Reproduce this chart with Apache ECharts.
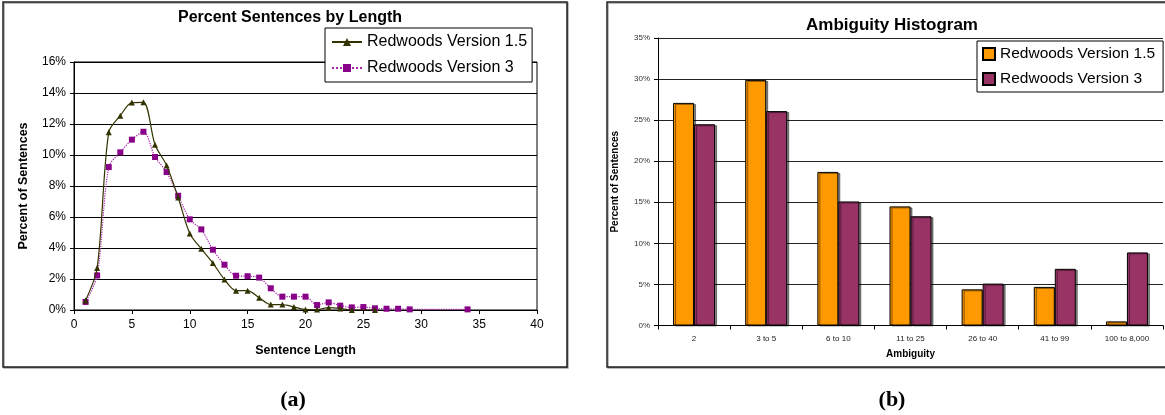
<!DOCTYPE html>
<html>
<head>
<meta charset="utf-8">
<script src="https://cdn.jsdelivr.net/npm/echarts@6/dist/echarts.min.js"></script>
<style>
  html, body { margin: 0; padding: 0; background: #fff; }
  #chart { width: 1165px; height: 415px; }
</style>
</head>
<body>
<div id="chart"></div>
<script>
// (a) Percent of sentences by sentence length
const lengthTicks = [0, 5, 10, 15, 20, 25, 30, 35, 40];
const lengthsV15 = [1, 2, 3, 4, 5, 6, 7, 8, 9, 10, 11, 12, 13, 14, 15, 16, 17, 18, 19, 20, 21, 22, 23, 24, 26];
const percentV15 = [0.62, 2.71, 11.46, 12.54, 13.38, 13.40, 10.66, 9.33, 7.26, 4.94, 3.95, 3.03, 1.97, 1.25, 1.25, 0.79, 0.35, 0.35, 0.20, 0.03, 0.03, 0.15, 0.10, 0.0, 0.0];
const lengthsV3 = [1, 2, 3, 4, 5, 6, 7, 8, 9, 10, 11, 12, 13, 14, 15, 16, 17, 18, 19, 20, 21, 22, 23, 24, 25, 26, 27, 28, 29, 34];
const percentV3 = [0.52, 2.23, 9.22, 10.17, 10.99, 11.50, 9.87, 8.90, 7.37, 5.85, 5.20, 3.89, 2.92, 2.21, 2.18, 2.09, 1.40, 0.86, 0.86, 0.86, 0.32, 0.49, 0.28, 0.17, 0.19, 0.11, 0.08, 0.08, 0.04, 0.04];

// (b) Ambiguity histogram
const ambiguityBins = ['2', '3 to 5', '6 to 10', '11 to 25', '26 to 40', '41 to 99', '100 to 8,000'];
const ambiguityV15 = [27.1, 29.9, 18.7, 14.5, 4.4, 4.7, 0.5];
const ambiguityV3 = [24.5, 26.1, 15.1, 13.3, 5.1, 6.9, 8.9];

const seriesNames = ['Redwoods Version 1.5', 'Redwoods Version 3'];
// bar series carry a trailing space so each legend targets its own panel
const barNames = seriesNames.map(n => n + ' ');

const zip = (xs, ys) => xs.map((x, i) => [x, ys[i]]);
const FONT = '"Liberation Sans", Arial, sans-serif';
const SERIF = '"Liberation Serif", "Times New Roman", serif';

const chart = echarts.init(document.getElementById('chart'), null, { renderer: 'canvas' });

chart.setOption({
  backgroundColor: '#fff',
  animation: false,
  textStyle: { fontFamily: FONT, color: '#000' },
  title: [
    { text: 'Percent Sentences by Length', left: 285, top: 5, textAlign: 'center',
      textStyle: { fontFamily: FONT, fontSize: 16, fontWeight: 'bold', color: '#000' } },
    { text: 'Ambiguity Histogram', left: 887, top: 12, textAlign: 'center',
      textStyle: { fontFamily: FONT, fontSize: 17, fontWeight: 'bold', color: '#000' } },
    { text: '(a)', left: 288, top: 384, textAlign: 'center',
      textStyle: { fontFamily: SERIF, fontSize: 22, fontWeight: 'bold', color: '#000' } },
    { text: '(b)', left: 887, top: 384, textAlign: 'center',
      textStyle: { fontFamily: SERIF, fontSize: 22, fontWeight: 'bold', color: '#000' } }
  ],
  graphic: [
    { type: 'rect', z: -1, shape: { x: 3, y: 2, width: 564, height: 365 },
      style: { fill: '#fff', stroke: '#222', lineWidth: 1.5, shadowColor: 'rgba(0,0,0,0.35)', shadowOffsetX: 1, shadowOffsetY: 1 } },
    { type: 'rect', z: -1, shape: { x: 607, y: 2, width: 560, height: 365 },
      style: { fill: '#fff', stroke: '#222', lineWidth: 1.5, shadowColor: 'rgba(0,0,0,0.35)', shadowOffsetX: 1, shadowOffsetY: 1 } }
  ],
  legend: [
    { data: seriesNames, orient: 'vertical', left: 325, top: 28,
      padding: [6, 5, 6, 6], itemGap: 10, itemWidth: 30, itemHeight: 10,
      backgroundColor: '#fff', borderColor: '#000', borderWidth: 1,
      textStyle: { fontFamily: FONT, fontSize: 16, color: '#000' },
      selectedMode: false },
    { data: barNames, orient: 'vertical', left: 977, top: 41,
      padding: [5, 8, 5, 5], itemGap: 9, itemWidth: 12, itemHeight: 12, icon: 'rect',
      backgroundColor: '#fff', borderColor: '#000', borderWidth: 1,
      textStyle: { fontFamily: FONT, fontSize: 15.5, color: '#000' },
      selectedMode: false,
      formatter: n => n.trim() }
  ],
  grid: [
    { left: 74, top: 62, width: 463, height: 248, show: true, borderColor: '#000', borderWidth: 1, backgroundColor: 'transparent' },
    { left: 658, top: 38, width: 505, height: 287.5, show: false }
  ],
  xAxis: [
    { gridIndex: 0, type: 'value', min: 0, max: 40, interval: 5,
      name: 'Sentence Length', nameLocation: 'middle', nameGap: 34,
      nameTextStyle: { fontFamily: FONT, fontSize: 12.5, fontWeight: 'bold', color: '#000' },
      axisLine: { show: true, onZero: false, lineStyle: { color: '#000', width: 1 } },
      axisTick: { show: true, inside: false, length: 4, lineStyle: { color: '#000' } },
      axisLabel: { fontFamily: FONT, fontSize: 12, color: '#000', margin: 9, formatter: v => lengthTicks.includes(v) ? String(v) : '' },
      splitLine: { show: false } },
    { gridIndex: 1, type: 'category', data: ambiguityBins, boundaryGap: true,
      name: 'Ambiguity', nameLocation: 'middle', nameGap: 24,
      nameTextStyle: { fontFamily: FONT, fontSize: 10, fontWeight: 'bold', color: '#000' },
      axisLine: { show: true, lineStyle: { color: '#000', width: 1 } },
      axisTick: { show: true, inside: false, length: 4, alignWithLabel: false, lineStyle: { color: '#000' } },
      axisLabel: { fontFamily: FONT, fontSize: 8, color: '#222', margin: 9, interval: 0 } }
  ],
  yAxis: [
    { gridIndex: 0, type: 'value', min: 0, max: 16, interval: 2,
      name: 'Percent of Sentences', nameLocation: 'middle', nameGap: 44, nameRotate: 90,
      nameTextStyle: { fontFamily: FONT, fontSize: 12.5, fontWeight: 'bold', color: '#000' },
      axisLine: { show: true, lineStyle: { color: '#000', width: 1 } },
      axisTick: { show: true, inside: false, length: 4, lineStyle: { color: '#000' } },
      axisLabel: { fontFamily: FONT, fontSize: 12, color: '#000', margin: 8, formatter: v => v + '%' },
      splitLine: { show: true, lineStyle: { color: '#000', width: 1 } } },
    { gridIndex: 1, type: 'value', min: 0, max: 35, interval: 5,
      name: 'Percent of Sentences', nameLocation: 'middle', nameGap: 38, nameRotate: 90,
      nameTextStyle: { fontFamily: FONT, fontSize: 10, fontWeight: 'bold', color: '#000' },
      axisLine: { show: true, lineStyle: { color: '#000', width: 1 } },
      axisTick: { show: true, inside: false, length: 4, lineStyle: { color: '#000' } },
      axisLabel: { fontFamily: FONT, fontSize: 8, color: '#333', margin: 8, formatter: v => v + '%' },
      splitLine: { show: true, lineStyle: { color: '#222', width: 1 } } }
  ],
  series: [
    { name: seriesNames[0], type: 'line', xAxisIndex: 0, yAxisIndex: 0,
      data: zip(lengthsV15, percentV15), smooth: 0.3,
      symbol: 'triangle', symbolSize: 6,
      lineStyle: { color: '#333300', width: 1.2, type: 'solid' },
      itemStyle: { color: '#333300' }, z: 3 },
    { name: seriesNames[1], type: 'line', xAxisIndex: 0, yAxisIndex: 0,
      data: zip(lengthsV3, percentV3), smooth: 0.3,
      symbol: 'rect', symbolSize: 6,
      lineStyle: { color: '#aa22aa', width: 1.2, type: 'dotted' },
      itemStyle: { color: '#880088' }, z: 2 },
    { name: barNames[0], type: 'bar', xAxisIndex: 1, yAxisIndex: 1,
      data: ambiguityV15, barWidth: 21, barGap: '0%',
      itemStyle: { color: '#FF9900', borderColor: '#000', borderWidth: 1,
        shadowColor: 'rgba(0,0,0,0.45)', shadowOffsetX: 2, shadowOffsetY: 1, shadowBlur: 0 } },
    { name: barNames[1], type: 'bar', xAxisIndex: 1, yAxisIndex: 1,
      data: ambiguityV3, barWidth: 21, barGap: '0%',
      itemStyle: { color: '#993366', borderColor: '#000', borderWidth: 1,
        shadowColor: 'rgba(0,0,0,0.45)', shadowOffsetX: 2, shadowOffsetY: 1, shadowBlur: 0 } }
  ]
});
</script>
</body>
</html>
